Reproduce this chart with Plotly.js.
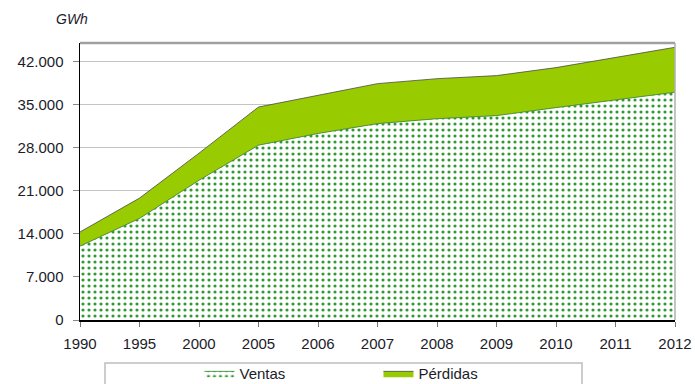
<!DOCTYPE html>
<html>
<head>
<meta charset="utf-8">
<script src="https://cdn.plot.ly/plotly-3.0.1.min.js"></script>
<style>
  html, body { margin: 0; padding: 0; background: #fff; }
  #chart { width: 695px; height: 384px; }
</style>
</head>
<body>
<div id="chart"></div>
<script>
// Electricity sales and losses (GWh), stacked
const years = ['1990', '1995', '2000', '2005', '2006', '2007', '2008', '2009', '2010', '2011', '2012'];
const ventas = [12000, 16500, 22700, 28400, 30300, 31900, 32700, 33200, 34500, 35700, 37000];
const perdidas = [2300, 3300, 4400, 6200, 6200, 6500, 6500, 6500, 6500, 7000, 7300];
const yTicks = [0, 7000, 14000, 21000, 28000, 35000, 42000];
const yTickText = ['0', '7.000', '14.000', '21.000', '28.000', '35.000', '42.000'];

const txt = '#1c1c2a';

const traces = [
  {
    x: years, y: ventas, name: 'Ventas', type: 'scatter', mode: 'lines',
    stackgroup: 'one',
    line: { color: '#2e7d2e', width: 0.8 },
    fillcolor: '#ffffff',
    fillpattern: { shape: '.', fgcolor: '#2f9a2f', bgcolor: '#ffffff', size: 6, solidity: 0.22 }
  },
  {
    x: years, y: perdidas, name: 'Pérdidas', type: 'scatter', mode: 'lines',
    stackgroup: 'one',
    line: { color: '#4a4a4a', width: 0.8 },
    fillcolor: '#99cc00'
  }
];

const layout = {
  width: 695, height: 384,
  margin: { l: 80, r: 20, t: 43, b: 64 },
  paper_bgcolor: '#ffffff', plot_bgcolor: '#ffffff',
  font: { family: 'Liberation Sans, Arial, sans-serif', size: 15, color: txt },
  showlegend: true,
  legend: {
    orientation: 'h', xref: 'container', yref: 'container',
    x: 0.287, xanchor: 'left', y: 0.07, yanchor: 'top',
    traceorder: 'normal', entrywidth: 134, entrywidthmode: 'pixels',
    itemwidth: 30, borderwidth: 0, bgcolor: 'rgba(0,0,0,0)',
    font: { size: 15, color: txt }
  },
  xaxis: {
    type: 'category', range: [0, 10], showgrid: false,
    showline: true, linecolor: '#000', linewidth: 1.5,
    ticks: 'outside', ticklen: 5, tickcolor: '#777',
    ticklabelstandoff: 4,
    tickfont: { size: 15, color: txt }, zeroline: false
  },
  yaxis: {
    range: [0, 45000], tickvals: yTicks, ticktext: yTickText,
    showgrid: true, gridcolor: '#c4c4c4', gridwidth: 1.5,
    showline: true, linecolor: '#000', linewidth: 1.5,
    ticks: 'outside', ticklen: 6, tickcolor: '#888',
    ticklabelstandoff: 6,
    tickfont: { size: 15, color: txt }, zeroline: false
  },
  shapes: [
    // plot frame, top and right
    { type: 'line', xref: 'paper', yref: 'paper', x0: 0, x1: 1, y0: 1, y1: 1,
      line: { color: '#a0a0a0', width: 2.5 } },
    { type: 'line', xref: 'paper', yref: 'paper', x0: 1, x1: 1, y0: 0, y1: 1,
      line: { color: '#b0b0b0', width: 1.5 } },
    // legend frame
    { type: 'rect', xref: 'paper', yref: 'paper', x0: 0.042, x1: 0.8437, y0: -0.245, y1: -0.155,
      line: { color: '#bdbdbd', width: 1.5 }, fillcolor: 'rgba(0,0,0,0)' }
  ],
  annotations: [
    { text: 'GWh', xref: 'paper', yref: 'paper', x: 0.017, y: 1.0, yshift: 14,
      xanchor: 'right', yanchor: 'bottom', showarrow: false,
      font: { size: 14, color: txt, style: 'italic' } }
  ]
};

Plotly.newPlot('chart', traces, layout, { displayModeBar: false, staticPlot: true });
</script>
</body>
</html>
